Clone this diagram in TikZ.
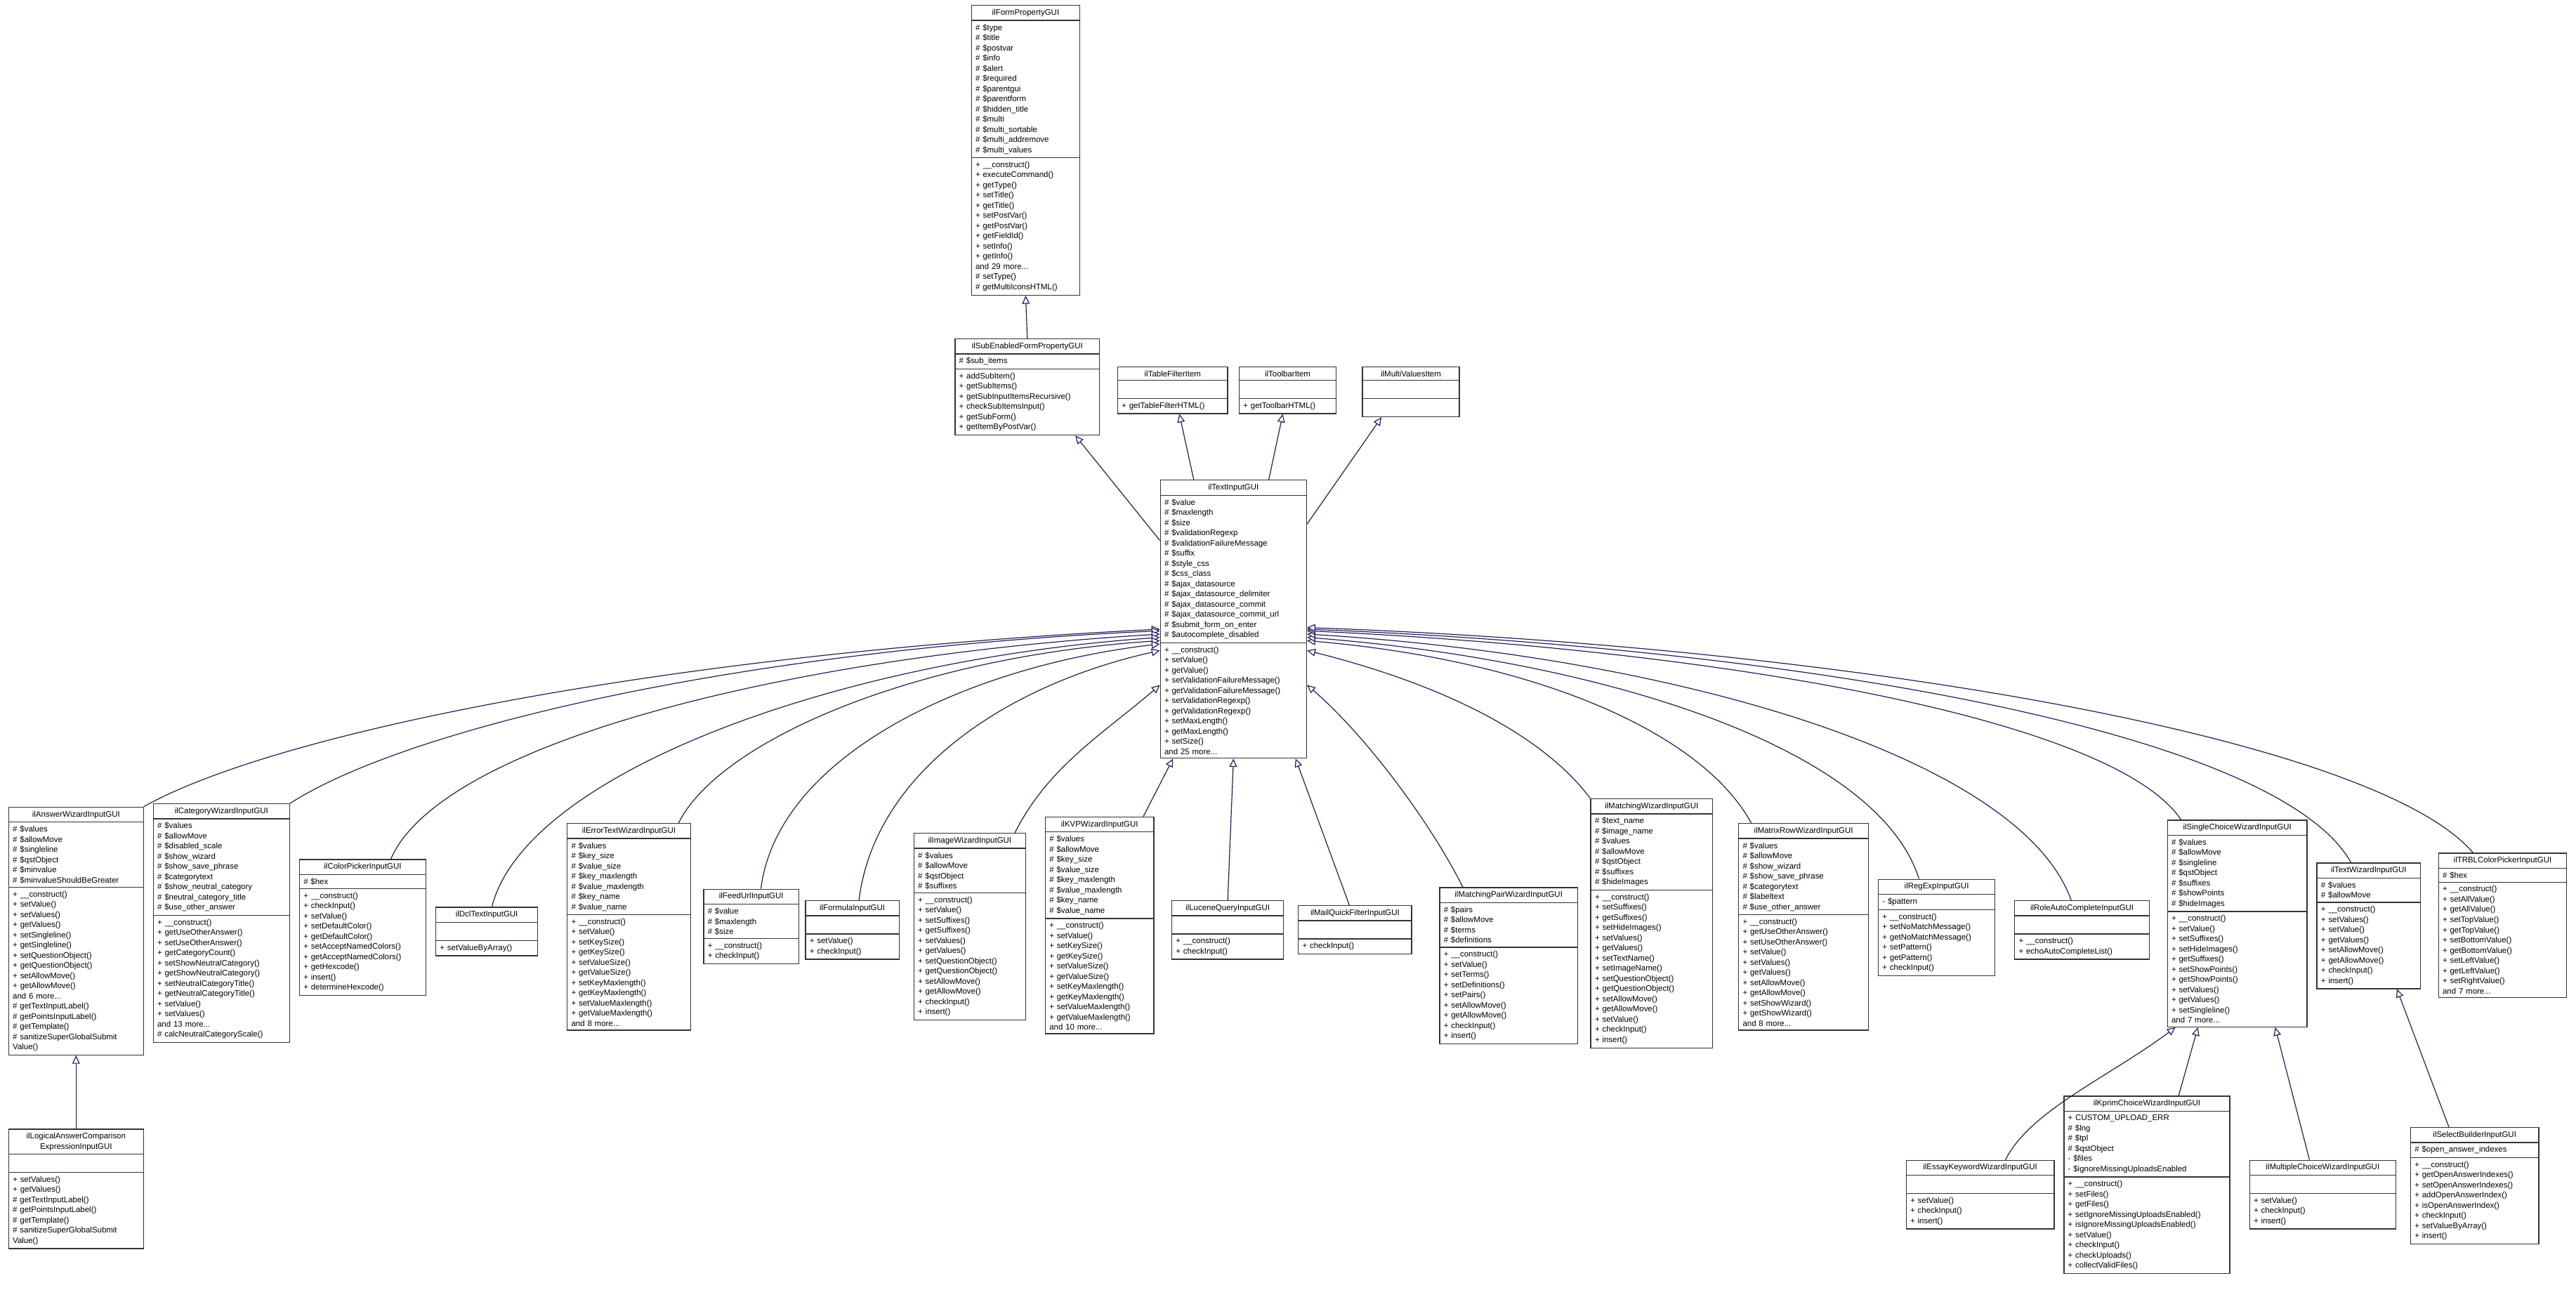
\documentclass[tikz,border=0pt]{standalone}
\usepackage{fontspec}
\setmainfont{Liberation Sans}
\usetikzlibrary{shapes.multipart,arrows.meta,calc}
\definecolor{edgeblue}{RGB}{25,25,112}
\definecolor{hlgray}{RGB}{191,191,191}
\newcommand{\ctitle}[1]{\makebox[\linewidth]{#1}}
\newcommand{\noitems}{\rule{0pt}{6.5pt}}
\tikzset{
  cls/.style={draw=black!80, line width=0.6pt, rectangle split, rectangle split parts=3,
    anchor=north west, align=left, inner xsep=2.5pt, inner ysep=2pt,
    font=\fontsize{4.9}{6.2}\selectfont, fill=white},
  inh/.style={draw=edgeblue, line width=0.5pt, -{Triangle[open,length=5pt,width=4.6pt,fill=white]}}
}
\begin{document}
\begin{tikzpicture}[x=1pt,y=-1pt]
\useasboundingbox[fill=white] (0,0) rectangle (1568,785);

% base classes
\node[cls, text width=61pt] (fpg) at (591,3) {\ctitle{ilFormPropertyGUI}
\nodepart{two}\# \$type\\\# \$title\\\# \$postvar\\\# \$info\\\# \$alert\\\# \$required\\\# \$parentgui\\\# \$parentform\\\# \$hidden\_title\\\# \$multi\\\# \$multi\_sortable\\\# \$multi\_addremove\\\# \$multi\_values
\nodepart{three}+ \_\_construct()\\+ executeCommand()\\+ getType()\\+ setTitle()\\+ getTitle()\\+ setPostVar()\\+ getPostVar()\\+ getFieldId()\\+ setInfo()\\+ getInfo()\\and 29 more...\\\# setType()\\\# getMultiIconsHTML()};
\node[cls, text width=83pt] (segui) at (581,206) {\ctitle{ilSubEnabledFormPropertyGUI}
\nodepart{two}\# \$sub\_items
\nodepart{three}+ addSubItem()\\+ getSubItems()\\+ getSubInputItemsRecursive()\\+ checkSubItemsInput()\\+ getSubForm()\\+ getItemByPostVar()};
\node[cls, text width=62pt] (tfi) at (680,223) {\ctitle{ilTableFilterItem}
\nodepart{two}\noitems
\nodepart{three}+ getTableFilterHTML()};
\node[cls, text width=54pt] (tbi) at (754,223) {\ctitle{ilToolbarItem}
\nodepart{two}\noitems
\nodepart{three}+ getToolbarHTML()};
\node[cls, text width=54pt] (mvi) at (829,223) {\ctitle{ilMultiValuesItem}
\nodepart{two}\noitems
\nodepart{three}\noitems};
\node[cls, text width=84pt, rectangle split part fill={hlgray}] (tig) at (706,292) {\ctitle{ilTextInputGUI}
\nodepart{two}\# \$value\\\# \$maxlength\\\# \$size\\\# \$validationRegexp\\\# \$validationFailureMessage\\\# \$suffix\\\# \$style\_css\\\# \$css\_class\\\# \$ajax\_datasource\\\# \$ajax\_datasource\_delimiter\\\# \$ajax\_datasource\_commit\\\# \$ajax\_datasource\_commit\_url\\\# \$submit\_form\_on\_enter\\\# \$autocomplete\_disabled
\nodepart{three}+ \_\_construct()\\+ setValue()\\+ getValue()\\+ setValidationFailureMessage()\\+ getValidationFailureMessage()\\+ setValidationRegexp()\\+ getValidationRegexp()\\+ setMaxLength()\\+ getMaxLength()\\+ setSize()\\and 25 more...};

% derived classes
\node[cls, text width=77pt] (awi) at (5,491) {\ctitle{ilAnswerWizardInputGUI}
\nodepart{two}\# \$values\\\# \$allowMove\\\# \$singleline\\\# \$qstObject\\\# \$minvalue\\\# \$minvalueShouldBeGreater
\nodepart{three}+ \_\_construct()\\+ setValue()\\+ setValues()\\+ getValues()\\+ setSingleline()\\+ getSingleline()\\+ setQuestionObject()\\+ getQuestionObject()\\+ setAllowMove()\\+ getAllowMove()\\and 6 more...\\\# getTextInputLabel()\\\# getPointsInputLabel()\\\# getTemplate()\\\# sanitizeSuperGlobalSubmit\\Value()};
\node[cls, text width=77pt] (lac) at (5,687) {\ctitle{ilLogicalAnswerComparison}\\\ctitle{ExpressionInputGUI}
\nodepart{two}\noitems
\nodepart{three}+ setValues()\\+ getValues()\\\# getTextInputLabel()\\\# getPointsInputLabel()\\\# getTemplate()\\\# sanitizeSuperGlobalSubmit\\Value()};
\node[cls, text width=78pt] (cwi) at (93,489) {\ctitle{ilCategoryWizardInputGUI}
\nodepart{two}\# \$values\\\# \$allowMove\\\# \$disabled\_scale\\\# \$show\_wizard\\\# \$show\_save\_phrase\\\# \$categorytext\\\# \$show\_neutral\_category\\\# \$neutral\_category\_title\\\# \$use\_other\_answer
\nodepart{three}+ \_\_construct()\\+ getUseOtherAnswer()\\+ setUseOtherAnswer()\\+ getCategoryCount()\\+ setShowNeutralCategory()\\+ getShowNeutralCategory()\\+ setNeutralCategoryTitle()\\+ getNeutralCategoryTitle()\\+ setValue()\\+ setValues()\\and 13 more...\\\# calcNeutralCategoryScale()};
\node[cls, text width=72pt] (cpi) at (182,523) {\ctitle{ilColorPickerInputGUI}
\nodepart{two}\# \$hex
\nodepart{three}+ \_\_construct()\\+ checkInput()\\+ setValue()\\+ setDefaultColor()\\+ getDefaultColor()\\+ setAcceptNamedColors()\\+ getAcceptNamedColors()\\+ getHexcode()\\+ insert()\\+ determineHexcode()};
\node[cls, text width=57pt] (dti) at (265,552) {\ctitle{ilDclTextInputGUI}
\nodepart{two}\noitems
\nodepart{three}+ setValueByArray()};
\node[cls, text width=70pt] (eti) at (345,501) {\ctitle{ilErrorTextWizardInputGUI}
\nodepart{two}\# \$values\\\# \$key\_size\\\# \$value\_size\\\# \$key\_maxlength\\\# \$value\_maxlength\\\# \$key\_name\\\# \$value\_name
\nodepart{three}+ \_\_construct()\\+ setValue()\\+ setKeySize()\\+ getKeySize()\\+ setValueSize()\\+ getValueSize()\\+ setKeyMaxlength()\\+ getKeyMaxlength()\\+ setValueMaxlength()\\+ getValueMaxlength()\\and 8 more...};
\node[cls, text width=53pt] (fui) at (428,541) {\ctitle{ilFeedUrlInputGUI}
\nodepart{two}\# \$value\\\# \$maxlength\\\# \$size
\nodepart{three}+ \_\_construct()\\+ checkInput()};
\node[cls, text width=52pt] (fii) at (490,548) {\ctitle{ilFormulaInputGUI}
\nodepart{two}\noitems
\nodepart{three}+ setValue()\\+ checkInput()};
\node[cls, text width=63pt] (iwi) at (556,507) {\ctitle{ilImageWizardInputGUI}
\nodepart{two}\# \$values\\\# \$allowMove\\\# \$qstObject\\\# \$suffixes
\nodepart{three}+ \_\_construct()\\+ setValue()\\+ setSuffixes()\\+ getSuffixes()\\+ setValues()\\+ getValues()\\+ setQuestionObject()\\+ getQuestionObject()\\+ setAllowMove()\\+ getAllowMove()\\+ checkInput()\\+ insert()};
\node[cls, text width=61pt] (kvp) at (636,497) {\ctitle{ilKVPWizardInputGUI}
\nodepart{two}\# \$values\\\# \$allowMove\\\# \$key\_size\\\# \$value\_size\\\# \$key\_maxlength\\\# \$value\_maxlength\\\# \$key\_name\\\# \$value\_name
\nodepart{three}+ \_\_construct()\\+ setValue()\\+ setKeySize()\\+ getKeySize()\\+ setValueSize()\\+ getValueSize()\\+ setKeyMaxlength()\\+ getKeyMaxlength()\\+ setValueMaxlength()\\+ getValueMaxlength()\\and 10 more...};
\node[cls, text width=63pt] (lqi) at (713,548) {\ctitle{ilLuceneQueryInputGUI}
\nodepart{two}\noitems
\nodepart{three}+ \_\_construct()\\+ checkInput()};
\node[cls, text width=64pt] (mqf) at (790,551) {\ctitle{ilMailQuickFilterInputGUI}
\nodepart{two}\noitems
\nodepart{three}+ checkInput()};
\node[cls, text width=79pt] (mpw) at (876,540) {\ctitle{ilMatchingPairWizardInputGUI}
\nodepart{two}\# \$pairs\\\# \$allowMove\\\# \$terms\\\# \$definitions
\nodepart{three}+ \_\_construct()\\+ setValue()\\+ setTerms()\\+ setDefinitions()\\+ setPairs()\\+ setAllowMove()\\+ getAllowMove()\\+ checkInput()\\+ insert()};
\node[cls, text width=69pt] (mwi) at (968,486) {\ctitle{ilMatchingWizardInputGUI}
\nodepart{two}\# \$text\_name\\\# \$image\_name\\\# \$values\\\# \$allowMove\\\# \$qstObject\\\# \$suffixes\\\# \$hideImages
\nodepart{three}+ \_\_construct()\\+ setSuffixes()\\+ getSuffixes()\\+ setHideImages()\\+ setValues()\\+ getValues()\\+ setTextName()\\+ setImageName()\\+ setQuestionObject()\\+ getQuestionObject()\\+ setAllowMove()\\+ getAllowMove()\\+ setValue()\\+ checkInput()\\+ insert()};
\node[cls, text width=74pt] (mrw) at (1058,501) {\ctitle{ilMatrixRowWizardInputGUI}
\nodepart{two}\# \$values\\\# \$allowMove\\\# \$show\_wizard\\\# \$show\_save\_phrase\\\# \$categorytext\\\# \$labeltext\\\# \$use\_other\_answer
\nodepart{three}+ \_\_construct()\\+ getUseOtherAnswer()\\+ setUseOtherAnswer()\\+ setValue()\\+ setValues()\\+ getValues()\\+ setAllowMove()\\+ getAllowMove()\\+ setShowWizard()\\+ getShowWizard()\\and 8 more...};
\node[cls, text width=66pt] (rei) at (1143,535) {\ctitle{ilRegExpInputGUI}
\nodepart{two}- \$pattern
\nodepart{three}+ \_\_construct()\\+ setNoMatchMessage()\\+ getNoMatchMessage()\\+ setPattern()\\+ getPattern()\\+ checkInput()};
\node[cls, text width=77pt] (rac) at (1226,548) {\ctitle{ilRoleAutoCompleteInputGUI}
\nodepart{two}\noitems
\nodepart{three}+ \_\_construct()\\+ echoAutoCompleteList()};
\node[cls, text width=80pt] (scw) at (1319,499) {\ctitle{ilSingleChoiceWizardInputGUI}
\nodepart{two}\# \$values\\\# \$allowMove\\\# \$singleline\\\# \$qstObject\\\# \$suffixes\\\# \$showPoints\\\# \$hideImages
\nodepart{three}+ \_\_construct()\\+ setValue()\\+ setSuffixes()\\+ setHideImages()\\+ getSuffixes()\\+ setShowPoints()\\+ getShowPoints()\\+ setValues()\\+ getValues()\\+ setSingleline()\\and 7 more...};
\node[cls, text width=58pt] (twi) at (1410,525) {\ctitle{ilTextWizardInputGUI}
\nodepart{two}\# \$values\\\# \$allowMove
\nodepart{three}+ \_\_construct()\\+ setValues()\\+ setValue()\\+ getValues()\\+ setAllowMove()\\+ getAllowMove()\\+ checkInput()\\+ insert()};
\node[cls, text width=73pt] (trbl) at (1484,519) {\ctitle{ilTRBLColorPickerInputGUI}
\nodepart{two}\# \$hex
\nodepart{three}+ \_\_construct()\\+ setAllValue()\\+ getAllValue()\\+ setTopValue()\\+ getTopValue()\\+ setBottomValue()\\+ getBottomValue()\\+ setLeftValue()\\+ getLeftValue()\\+ setRightValue()\\and 7 more...};

% third level
\node[cls, text width=85pt] (ekw) at (1160,706) {\ctitle{ilEssayKeywordWizardInputGUI}
\nodepart{two}\noitems
\nodepart{three}+ setValue()\\+ checkInput()\\+ insert()};
\node[cls, text width=96pt] (kcw) at (1256,667) {\ctitle{ilKprimChoiceWizardInputGUI}
\nodepart{two}+ CUSTOM\_UPLOAD\_ERR\\\# \$lng\\\# \$tpl\\\# \$qstObject\\- \$files\\- \$ignoreMissingUploadsEnabled
\nodepart{three}+ \_\_construct()\\+ setFiles()\\+ getFiles()\\+ setIgnoreMissingUploadsEnabled()\\+ isIgnoreMissingUploadsEnabled()\\+ setValue()\\+ checkInput()\\+ checkUploads()\\+ collectValidFiles()};
\node[cls, text width=84pt] (mcw) at (1369,706) {\ctitle{ilMultipleChoiceWizardInputGUI}
\nodepart{two}\noitems
\nodepart{three}+ setValue()\\+ checkInput()\\+ insert()};
\node[cls, text width=73pt] (sbi) at (1467,686) {\ctitle{ilSelectBuilderInputGUI}
\nodepart{two}\# \$open\_answer\_indexes
\nodepart{three}+ \_\_construct()\\+ getOpenAnswerIndexes()\\+ setOpenAnswerIndexes()\\+ addOpenAnswerIndex()\\+ isOpenAnswerIndex()\\+ checkInput()\\+ setValueByArray()\\+ insert()};

% upper inheritance
\draw[inh] (segui.north) -- (fpg.south);
\draw[inh] ([yshift=-37pt]tig.north west) -- ($(segui.south west)!0.83!(segui.south east)$);
\draw[inh] ($(tig.north west)!0.23!(tig.north east)$) -- ($(tfi.south west)!0.56!(tfi.south east)$);
\draw[inh] ($(tig.north west)!0.74!(tig.north east)$) -- ($(tbi.south west)!0.45!(tbi.south east)$);
\draw[inh] ([yshift=-27pt]tig.north east) -- ($(mvi.south west)!0.2!(mvi.south east)$);

% left children
\draw[inh] (awi.north east) .. controls +(80,-45) and +(-300,15) .. ([yshift=-91pt]tig.north west);
\draw[inh] (cwi.north east) .. controls +(70,-45) and +(-260,12) .. ([yshift=-92pt]tig.north west);
\draw[inh] ($(cpi.north west)!0.72!(cpi.north east)$) .. controls +(30,-70) and +(-230,14) .. ([yshift=-94pt]tig.north west);
\draw[inh] ($(dti.north west)!0.55!(dti.north east)$) .. controls +(20,-80) and +(-200,14) .. ([yshift=-96pt]tig.north west);
\draw[inh] ($(eti.north west)!0.9!(eti.north east)$) .. controls +(25,-50) and +(-150,10) .. ([yshift=-98pt]tig.north west);
\draw[inh] ($(fui.north west)!0.6!(fui.north east)$) .. controls +(10,-80) and +(-120,14) .. ([yshift=-100pt]tig.north west);
\draw[inh] ($(fii.north west)!0.57!(fii.north east)$) .. controls +(10,-80) and +(-90,20) .. ([yshift=-104pt]tig.north west);
\draw[inh] ($(iwi.north west)!0.9!(iwi.north east)$) .. controls +(20,-40) and +(-35,30) .. ([yshift=-125pt]tig.north west);

% bottom children
\draw[inh] ($(kvp.north west)!0.9!(kvp.north east)$) -- ([xshift=8pt]tig.south west);
\draw[inh] (lqi.north) -- (tig.south);
\draw[inh] ($(mqf.north west)!0.45!(mqf.north east)$) -- ([xshift=-7pt]tig.south east);

% right children
\draw[inh] ($(mpw.north west)!0.17!(mpw.north east)$) .. controls +(-20,-40) and +(35,30) .. ([yshift=-125pt]tig.north east);
\draw[inh] (mwi.north west) .. controls +(-30,-40) and +(80,20) .. ([yshift=-104pt]tig.north east);
\draw[inh] ($(mrw.north west)!0.1!(mrw.north east)$) .. controls +(-30,-55) and +(140,12) .. ([yshift=-98pt]tig.north east);
\draw[inh] ($(rei.north west)!0.35!(rei.north east)$) .. controls +(-25,-80) and +(180,14) .. ([yshift=-96pt]tig.north east);
\draw[inh] ($(rac.north west)!0.42!(rac.north east)$) .. controls +(-30,-85) and +(230,14) .. ([yshift=-94pt]tig.north east);
\draw[inh] ($(scw.north west)!0.1!(scw.north east)$) .. controls +(-40,-60) and +(260,12) .. ([yshift=-92pt]tig.north east);
\draw[inh] ($(twi.north west)!0.33!(twi.north east)$) .. controls +(-45,-80) and +(300,12) .. ([yshift=-91pt]tig.north east);
\draw[inh] ($(trbl.north west)!0.27!(trbl.north east)$) .. controls +(-60,-70) and +(330,12) .. ([yshift=-90pt]tig.north east);

% third level
\draw[inh] (lac.north) -- (awi.south);
\draw[inh] ($(ekw.north west)!0.67!(ekw.north east)$) .. controls +(15,-30) and +(-40,30) .. ($(scw.south west)!0.06!(scw.south east)$);
\draw[inh] ($(kcw.north west)!0.69!(kcw.north east)$) -- ($(scw.south west)!0.22!(scw.south east)$);
\draw[inh] ($(mcw.north west)!0.41!(mcw.north east)$) -- ($(scw.south west)!0.77!(scw.south east)$);
\draw[inh] ($(sbi.north west)!0.3!(sbi.north east)$) -- ($(twi.south west)!0.77!(twi.south east)$);
\end{tikzpicture}
\end{document}
